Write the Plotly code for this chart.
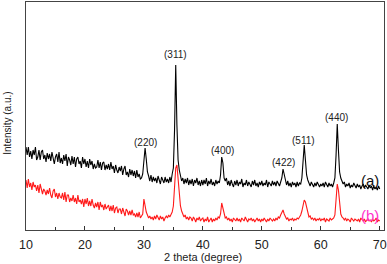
import numpy as np
import plotly.graph_objects as go

# 2-theta sampling grid (degrees), 0.2 deg steps from 10 to 70
two_theta = np.round(np.linspace(10, 70, 301), 1)

# Sample (a) intensity (a.u.), rows of 2 degrees
sample_a = [
    83, 75, 83, 73, 79, 71, 80, 75, 83, 70,
    73, 80, 70, 78, 80, 71, 75, 68, 77, 71,
    76, 69, 78, 71, 66, 73, 76, 68, 78, 67,
    72, 66, 75, 69, 76, 64, 73, 70, 65, 74,
    66, 73, 63, 71, 73, 66, 69, 62, 73, 66,
    71, 63, 69, 62, 71, 65, 69, 61, 66, 62,
    63, 70, 62, 68, 60, 67, 68, 60, 65, 61,
    66, 60, 68, 61, 64, 57, 65, 60, 57, 63,
    59, 64, 55, 61, 64, 55, 58, 53, 61, 55,
    60, 54, 59, 52, 60, 53, 56, 51, 52, 56,
    68, 82, 71, 58, 54, 49, 55, 48, 53, 49,
    52, 47, 54, 49, 46, 53, 50, 47, 53, 48,
    51, 47, 53, 48, 56, 62, 100, 165, 105, 70,
    60, 53, 49, 52, 46, 51, 47, 52, 45, 50,
    46, 51, 44, 50, 47, 52, 45, 49, 44, 50,
    45, 50, 46, 52, 44, 49, 46, 51, 45, 48,
    44, 50, 46, 49, 47, 55, 73, 67, 52, 49,
    52, 45, 49, 44, 50, 46, 43, 49, 45, 50,
    44, 48, 46, 51, 43, 47, 45, 50, 44, 48,
    46, 43, 49, 45, 50, 44, 47, 43, 48, 45,
    49, 44, 47, 45, 50, 43, 48, 46, 44, 49,
    45, 48, 44, 49, 46, 44, 48, 52, 61, 55,
    48, 45, 49, 44, 47, 43, 48, 45, 47, 43,
    48, 44, 47, 46, 52, 68, 85, 70, 55, 50,
    47, 44, 48, 45, 43, 47, 44, 48, 45, 43,
    46, 44, 47, 43, 48, 45, 43, 47, 44, 46,
    43, 47, 52, 75, 106, 80, 58, 52, 48, 46,
    48, 43, 46, 44, 47, 42, 45, 43, 47, 44,
    42, 46, 43, 45, 41, 44, 46, 42, 45, 43,
    41, 45, 42, 44, 40, 44, 41, 43, 40, 44,
    41,
]

# Sample (b) intensity (a.u.), rows of 2 degrees
sample_b = [
    50, 42, 51, 43, 47, 40, 48, 43, 45, 39,
    45, 37, 46, 39, 36, 41, 39, 35, 40, 36,
    42, 35, 32, 39, 41, 33, 37, 31, 37, 33,
    32, 37, 30, 38, 28, 35, 35, 28, 32, 29,
    35, 28, 32, 26, 35, 28, 30, 26, 31, 23,
    31, 26, 32, 24, 29, 24, 31, 25, 22, 27,
    23, 28, 20, 28, 23, 25, 20, 26, 21, 23,
    25, 19, 24, 19, 25, 17, 22, 23, 17, 21,
    21, 16, 22, 18, 14, 21, 19, 15, 19, 15,
    20, 15, 16, 13, 17, 13, 18, 12, 14, 16,
    31, 24, 18, 15, 12, 14, 11, 13, 10, 14,
    11, 15, 12, 10, 14, 11, 13, 9, 12, 14,
    12, 15, 13, 16, 18, 24, 42, 62, 65, 48,
    32, 24, 19, 16, 13, 15, 11, 13, 10, 13,
    12, 9, 13, 11, 8, 12, 10, 13, 9, 11,
    12, 8, 11, 9, 13, 8, 10, 12, 8, 11,
    9, 12, 10, 13, 12, 16, 27, 21, 15, 12,
    13, 10, 12, 9, 11, 8, 12, 10, 9, 12,
    9, 11, 8, 12, 10, 9, 13, 10, 8, 11,
    10, 12, 9, 11, 8, 10, 12, 9, 11, 8,
    11, 9, 12, 10, 8, 11, 9, 12, 10, 9,
    11, 9, 12, 10, 13, 12, 15, 17, 20, 16,
    14, 11, 12, 9, 11, 10, 12, 9, 11, 10,
    12, 11, 13, 15, 19, 26, 30, 28, 22, 16,
    13, 14, 11, 12, 10, 12, 9, 11, 10, 12,
    9, 11, 10, 12, 8, 11, 10, 9, 12, 10,
    11, 12, 15, 30, 46, 40, 24, 16, 13, 12,
    10, 12, 9, 11, 10, 8, 12, 10, 9, 11,
    10, 9, 11, 8, 12, 10, 9, 11, 8, 10,
    11, 9, 10, 8, 11, 9, 10, 12, 8, 10,
    9,
]

# Peak labels
hkl_labels = ["(220)", "(311)", "(400)", "(422)", "(511)", "(440)"]
hkl_pos = [30.2, 35.4, 43.25, 53.65, 57.1, 62.75]
hkl_y = [88, 176, 80, 68, 90, 113]

series_labels = ["(a)", "(b)"]
series_label_x = [68.3, 68.3]
series_label_y = [50, 15]
series_colors = ["#000000", "#ff1a1a"]
series_label_colors = ["#111111", "#ff33cc"]

FONT = "Liberation Sans, Arial"

fig = go.Figure()
for ys, col in zip([sample_a, sample_b], series_colors):
    fig.add_trace(go.Scatter(x=two_theta, y=ys, mode="lines",
                             line=dict(color=col, width=1.1), showlegend=False,
                             hoverinfo="skip"))

for lab, xp, yp in zip(hkl_labels, hkl_pos, hkl_y):
    fig.add_annotation(x=xp, y=yp, text=lab, showarrow=False,
                       font=dict(family=FONT, size=10, color="#222222"),
                       xanchor="center", yanchor="middle")

for lab, xp, yp, c in zip(series_labels, series_label_x, series_label_y, series_label_colors):
    fig.add_annotation(x=xp, y=yp, text=lab, showarrow=False,
                       font=dict(family=FONT, size=15, color=c),
                       xanchor="center", yanchor="middle")

# Axis titles placed in paper coordinates
fig.add_annotation(xref="paper", yref="paper", x=0.494, y=-0.118,
                   text="2 theta (degree)", showarrow=False,
                   font=dict(family=FONT, size=11, color="#222222"),
                   xanchor="center", yanchor="middle")
fig.add_annotation(xref="paper", yref="paper", x=-0.054, y=0.469,
                   text="Intensity (a.u.)", showarrow=False, textangle=-90,
                   font=dict(family=FONT, size=10, color="#222222"),
                   xanchor="center", yanchor="middle")

fig.update_layout(
    width=387, height=264,
    margin=dict(l=26, r=3, t=2, b=34, autoexpand=False),
    paper_bgcolor="white", plot_bgcolor="white",
    font=dict(family=FONT, color="#222222"),
    xaxis=dict(range=[10, 70.73], tickmode="array", automargin=False,
               tickvals=[10, 20, 30, 40, 50, 60, 70],
               ticks="inside", ticklen=4, tickwidth=1, tickcolor="#333333",
               minor=dict(tickvals=[15, 25, 35, 45, 55, 65], ticks="inside",
                          ticklen=3, tickcolor="#333333"),
               showline=True, linecolor="#444444", linewidth=1, mirror=True,
               showgrid=False, zeroline=False, ticklabelstandoff=3,
               tickfont=dict(family=FONT, size=12.5, color="#222222")),
    yaxis=dict(range=[0, 228], showticklabels=False, ticks="", automargin=False,
               showline=True, linecolor="#444444", linewidth=1, mirror=True,
               showgrid=False, zeroline=False),
)

fig.write_html("out.html", config={"displayModeBar": False},
               post_script="document.body.style.margin='0px';document.body.style.padding='0px';")
